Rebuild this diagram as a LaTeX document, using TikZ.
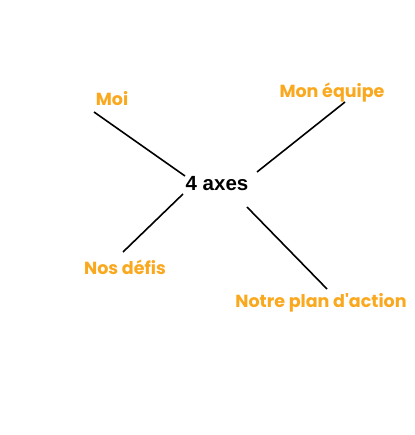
\documentclass[tikz,border=0pt]{standalone}
\usepackage{fontspec}
\setmainfont{Liberation Sans}
\newfontfamily\axefont{Poppins}
\definecolor{axeorange}{RGB}{250,168,30}

\begin{document}
\begin{tikzpicture}[
        x=1pt, y=-1pt,
        axe/.style={text=axeorange, inner sep=1pt,
                    font=\axefont\fontsize{17.5}{20}\selectfont\bfseries},
        hub/.style={text=black, inner sep=1pt,
                    font=\fontsize{20.5}{24}\selectfont\bfseries},
        spoke/.style={draw=black, line width=1.6pt},
      ]
        \useasboundingbox[fill=white] (0,0) rectangle (414,435);

        \node[hub] (axes) at (217,184) {4 axes};

        \node[axe] (moi) at (112,99) {Moi};
        \node[axe] (equipe) at (332,93) {Mon équipe};
        \node[axe] (defis) at (125,267) {Nos défis};
        \node[axe] (plan) at (321,303) {Notre plan d'action};

        % ends of the four spokes
        \coordinate (moi-a) at (94,112);
        \coordinate (moi-b) at (185,176);
        \coordinate (equipe-a) at (345,102);
        \coordinate (equipe-b) at (257,172);
        \coordinate (defis-a) at (123,252);
        \coordinate (defis-b) at (183,194);
        \coordinate (plan-a) at (327,289);
        \coordinate (plan-b) at (247,207);

        \foreach \n in {moi,equipe,defis,plan} {
          \draw[spoke] (\n-a) -- (\n-b);
        }
      \end{tikzpicture}
\end{document}
